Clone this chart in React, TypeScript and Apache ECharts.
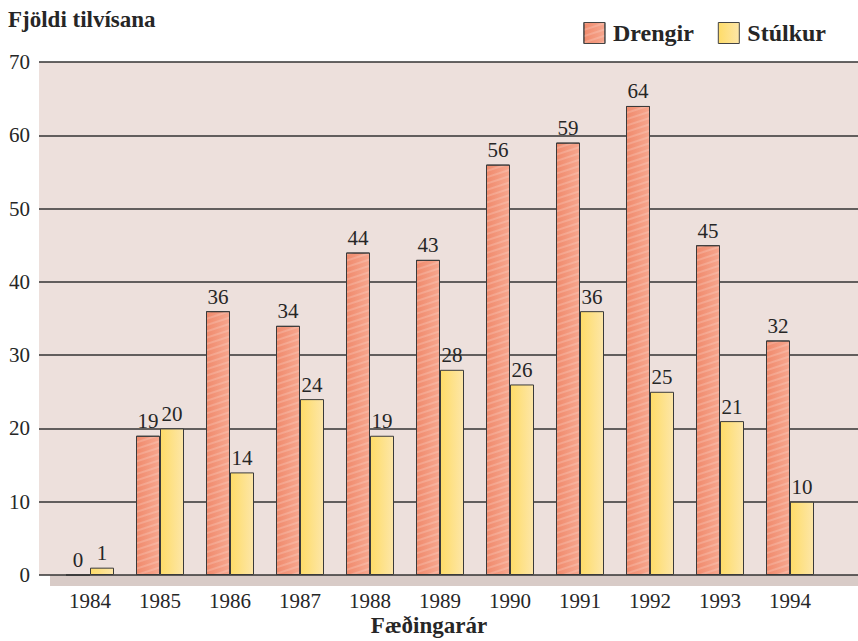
import React, { useEffect, useRef } from "react";
import * as echarts from "echarts";

const years = ["1984", "1985", "1986", "1987", "1988", "1989", "1990", "1991", "1992", "1993", "1994"];
const drengir = [0, 19, 36, 34, 44, 43, 56, 59, 64, 45, 32];
const stulkur = [1, 20, 14, 24, 19, 28, 26, 36, 25, 21, 10];
const yTicks = [0, 10, 20, 30, 40, 50, 60, 70];

const FONT = "'Liberation Serif', 'DejaVu Serif', serif";

export default function App() {
  const ref = useRef<HTMLDivElement>(null);
  useEffect(() => {
    document.body.style.margin = "0";
    const chart = echarts.init(ref.current!, null, { renderer: "svg" });
    const redFill = new echarts.graphic.LinearGradient(0, 0, 1, 0, [
      { offset: 0, color: "#f08a6c" },
      { offset: 1, color: "#f6a68e" },
    ]);
    const yellowFill = new echarts.graphic.LinearGradient(0, 0, 1, 0, [
      { offset: 0, color: "#fedc68" },
      { offset: 1, color: "#fde6a8" },
    ]);
    const labelStyle = {
      show: true,
      position: "top" as const,
      distance: 4,
      fontFamily: FONT,
      fontSize: 21,
      color: "#262626",
    };
    chart.setOption({
      animation: false,
      textStyle: { fontFamily: FONT },
      title: {
        text: "Fjöldi tilvísana",
        left: 8,
        top: 8,
        padding: 0,
        textStyle: { fontFamily: FONT, fontSize: 23, fontWeight: "bold", color: "#262626" },
      },
      legend: {
        right: 32,
        top: 21,
        padding: 0,
        itemWidth: 21,
        itemHeight: 21,
        itemGap: 24,
        icon: "rect",
        data: ["Drengir", "Stúlkur"],
        textStyle: { fontFamily: FONT, fontSize: 24, fontWeight: "bold", color: "#262626", padding: [0, 0, 0, 3] },
        itemStyle: { borderColor: "#444", borderWidth: 1 },
      },
      graphic: [
        {
          type: "rect",
          shape: { x: 50, y: 575, width: 808, height: 11 },
          style: { fill: "#d8cbc7" },
          z: 0,
        },
        {
          type: "text",
          left: "center",
          top: 614,
          style: { text: "Fæðingarár", fontFamily: FONT, fontSize: 23, fontWeight: "bold", fill: "#262626" },
        },
      ],
      grid: [
        { left: 39, right: 0, top: 62, bottom: 66, show: true, backgroundColor: "#ede0dc", borderWidth: 0 },
        { left: 55, width: 770, top: 62, bottom: 66 },
      ],
      xAxis: [
        { gridIndex: 0, type: "value", show: false, min: 0, max: 1 },
        {
          gridIndex: 1,
          type: "category",
          data: years,
          axisLine: { show: false },
          axisTick: { show: false },
          axisLabel: { margin: 15, fontFamily: FONT, fontSize: 21, color: "#262626" },
        },
      ],
      yAxis: [
        {
          gridIndex: 0,
          type: "value",
          min: 0,
          max: 70,
          interval: 10,
          axisLine: { show: false },
          axisTick: { show: false },
          axisLabel: {
            margin: 9,
            fontFamily: FONT,
            fontSize: 21,
            color: "#262626",
            formatter: (v: number) => (yTicks.includes(v) ? String(v) : ""),
          },
          splitLine: { show: true, lineStyle: { color: "#333", width: 1.5 } },
        },
        { gridIndex: 1, type: "value", min: 0, max: 70, show: false, splitLine: { show: false } },
      ],
      series: [
        {
          name: "Drengir",
          type: "bar",
          xAxisIndex: 1,
          yAxisIndex: 1,
          data: drengir,
          barWidth: 24,
          barGap: "0%",
          itemStyle: {
            color: redFill,
            borderColor: "#3a3a3a",
            borderWidth: 1,
            decal: {
              symbol: "rect",
              color: "rgba(255,255,255,0.18)",
              dashArrayX: [1, 0],
              dashArrayY: [2, 4],
              rotation: -Math.PI / 10,
            },
          },
          label: labelStyle,
        },
        {
          name: "Stúlkur",
          type: "bar",
          xAxisIndex: 1,
          yAxisIndex: 1,
          data: stulkur,
          barWidth: 24,
          barGap: "0%",
          itemStyle: { color: yellowFill, borderColor: "#3a3a3a", borderWidth: 1 },
          label: labelStyle,
        },
      ],
    });
    return () => chart.dispose();
  }, []);
  return <div ref={ref} style={{ width: 858, height: 641 }} />;
}
